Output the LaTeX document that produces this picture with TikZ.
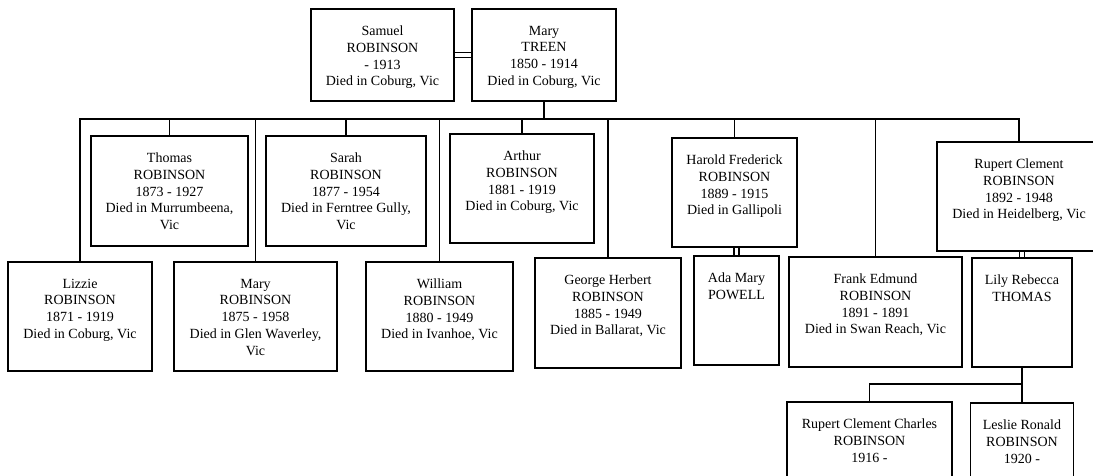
\documentclass[tikz,border=0pt]{standalone}
\usepackage{fontspec}
\setmainfont{Liberation Serif}
\usetikzlibrary{calc}

\tikzset{
    person/.style={draw, line width=1.7pt, inner sep=0pt},
    who/.style={anchor=north, align=center, inner sep=0pt, yshift=-17.5pt,
        font=\fontsize{14}{16.8}\selectfont},
    link/.style={line width=1.7pt},
    wed/.style={line width=1.6pt, double, double distance=3.2pt}
}

\begin{document}
\begin{tikzpicture}[x=1pt, y=-1pt]

    % Fix the page size
    \useasboundingbox (0,0) rectangle (1093,475);

    % Parents
    \node[person, minimum width=143pt, minimum height=92pt,
        label={[who]north:{Samuel\\ROBINSON\\- 1913\\Died in Coburg, Vic}}] (samuel) at (382.5,55) {};
    \node[person, minimum width=144pt, minimum height=92pt,
        label={[who]north:{Mary\\TREEN\\1850 - 1914\\Died in Coburg, Vic}}] (maryt) at (544,55) {};

    % Children, upper row
    \node[person, minimum width=157pt, minimum height=110pt,
        label={[who]north:{Thomas\\ROBINSON\\1873 - 1927\\Died in Murrumbeena,\\Vic}}] (thomas) at (169.5,191) {};
    \node[person, minimum width=160pt, minimum height=110pt,
        label={[who]north:{Sarah\\ROBINSON\\1877 - 1954\\Died in Ferntree Gully,\\Vic}}] (sarah) at (346,191) {};
    \node[person, minimum width=144pt, minimum height=109pt,
        label={[who]north:{Arthur\\ROBINSON\\1881 - 1919\\Died in Coburg, Vic}}] (arthur) at (522,188.5) {};
    \node[person, minimum width=125pt, minimum height=109pt,
        label={[who]north:{Harold Frederick\\ROBINSON\\1889 - 1915\\Died in Gallipoli}}] (harold) at (734.5,192.5) {};
    \node[person, minimum width=164pt, minimum height=109pt,
        label={[who]north:{Rupert Clement\\ROBINSON\\1892 - 1948\\Died in Heidelberg, Vic}}] (rupert) at (1019,196.5) {};

    % Children, lower row
    \node[person, minimum width=144pt, minimum height=109pt,
        label={[who]north:{Lizzie\\ROBINSON\\1871 - 1919\\Died in Coburg, Vic}}] (lizzie) at (80,316.5) {};
    \node[person, minimum width=163pt, minimum height=109pt,
        label={[who]north:{Mary\\ROBINSON\\1875 - 1958\\Died in Glen Waverley,\\Vic}}] (maryr) at (255.5,316.5) {};
    \node[person, minimum width=147pt, minimum height=109pt,
        label={[who]north:{William\\ROBINSON\\1880 - 1949\\Died in Ivanhoe, Vic}}] (william) at (439.5,316.5) {};
    \node[person, minimum width=146pt, minimum height=110pt,
        label={[who]north:{George Herbert\\ROBINSON\\1885 - 1949\\Died in Ballarat, Vic}}] (george) at (608,313) {};
    \node[person, minimum width=173pt, minimum height=110pt,
        label={[who]north:{Frank Edmund\\ROBINSON\\1891 - 1891\\Died in Swan Reach, Vic}}] (frank) at (875.5,312) {};

    % Spouses
    \node[person, minimum width=85pt, minimum height=109pt,
        label={[who]north:{Ada Mary\\POWELL}}] (ada) at (736.5,310.5) {};
    \node[person, minimum width=100pt, minimum height=109pt,
        label={[who]north:{Lily Rebecca\\THOMAS}}] (lily) at (1022,312.5) {};

    % Grandchildren
    \node[person, minimum width=165pt, minimum height=110pt,
        label={[who]north:{Rupert Clement Charles\\ROBINSON\\1916 -}}] (rcc) at (869.5,457) {};
    \node[person, minimum width=103pt, minimum height=110pt,
        label={[who]north:{Leslie Ronald\\ROBINSON\\1920 -}}] (leslie) at (1022,458) {};

    % Marriages
    \draw[wed] (samuel.east) -- (maryt.west);
    \draw[wed] (ada.north) -- (ada.north |- harold.south);
    \draw[wed] (lily.north) -- (lily.north |- rupert.south);

    % Sibling bar
    \coordinate (bar) at (544,119);
    \draw[link] (maryt.south) -- (bar);
    \draw[link] (lizzie.north) -- (lizzie.north |- bar) -- (rupert.north |- bar) -- (rupert.north);
    \foreach \kid in {thomas, maryr, sarah, william, arthur, george, harold, frank}
        \draw[link] (\kid.north) -- (\kid.north |- bar);

    % Rupert's children
    \coordinate (kids) at (1022,384);
    \draw[link] (lily.south) -- (leslie.north);
    \draw[link] (kids) -| (rcc.north);

\end{tikzpicture}
\end{document}
